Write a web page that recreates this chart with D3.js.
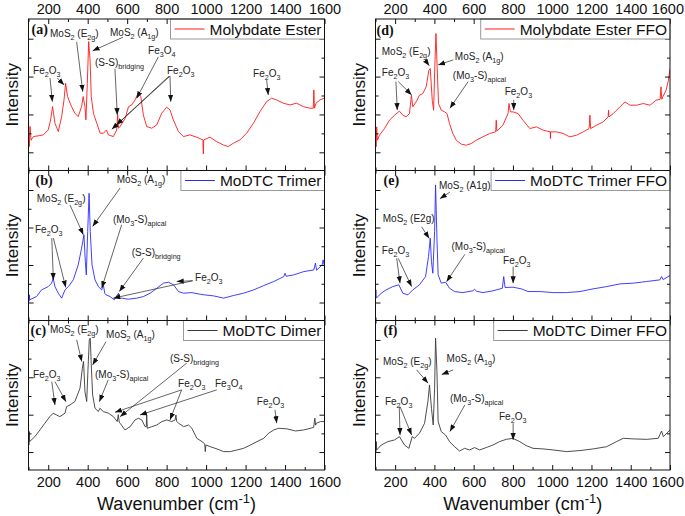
<!DOCTYPE html>
<html><head><meta charset="utf-8">
<script src="https://cdn.jsdelivr.net/npm/d3@7"></script>
<style>body{margin:0;background:#fff}svg{display:block}</style>
</head><body><svg id="c" width="685" height="516"></svg>
<script>
// ---------- data (wavenumber cm-1, intensity a.u.) ----------
const xMajor = [200,400,600,800,1000,1200,1400,1600];
const xMinor = [100,300,500,700,900,1100,1300,1500];
const xDomain = [100,1600];
const yDomain = [0,100];

const specA = [[100,33.4],[104,15.8],[108,29],[113,20],[125,22.4],[150,22.9],[175,23.5],[200,26.8],[212,33.4],[222,42.2],[228,36.7],[234,31.2],[251,25.7],[268,35.6],[280,46.6],[288,57.6],[298,48.8],[318,42.2],[335,37.8],[352,35.6],[369,42.2],[377,48.8],[386,42.2],[391,33.4],[398,57.6],[405,85.1],[412,73],[418,48.8],[429,37.8],[446,31.2],[463,24.6],[480,24.6],[495,26.8],[505,23.5],[530,22.4],[547,26.8],[552,36.7],[556,27.9],[564,29],[590,34.5],[607,42.2],[623,43.3],[640,46.6],[657,51.5],[669,48.8],[682,36.7],[699,29],[725,27.9],[750,30.1],[775,37.8],[800,41.8],[817,40],[834,33.4],[860,25.7],[885,22.4],[918,23.5],[952,22],[984,20.2],[986,11],[988,20.2],[1020,22],[1053,19.1],[1087,16.9],[1112,15.8],[1138,18],[1172,20.2],[1205,24.6],[1240,31.2],[1273,38.9],[1307,45.5],[1332,47.7],[1357,46.6],[1391,44.4],[1425,43.3],[1459,44.4],[1492,42.2],[1526,41.1],[1543,41.1],[1546,53.2],[1549,41.1],[1557,44.4],[1577,46.6],[1600,47.7]];

const specB = [[100,19.3],[102,12.7],[104,17.1],[106,13.8],[141,16],[166,20.4],[200,22.6],[217,24.9],[225,28.2],[234,22.6],[251,18.2],[268,14.9],[285,20.4],[302,22.6],[327,27.1],[352,37.1],[369,48.2],[381,57.1],[388,39.3],[393,30.4],[400,59.3],[407,84.8],[413,59.3],[422,37.1],[437,27.1],[454,22.6],[471,20.4],[479,23.8],[487,18],[493,17.1],[513,16],[535,13.8],[556,18.2],[560,15],[572,14.9],[606,14.2],[649,14.9],[683,16],[716,18.2],[750,21.5],[784,24.9],[809,25.5],[835,23.8],[860,19.3],[886,18.2],[928,18.6],[970,17.5],[991,17.1],[1038,16.4],[1089,14.9],[1140,16.7],[1190,18.2],[1241,20.4],[1292,23.3],[1343,26],[1394,29.3],[1400,31.5],[1406,29.5],[1444,30.4],[1495,32.6],[1546,33.7],[1554,38.2],[1560,33.5],[1588,37.1],[1593,40.4],[1600,36]];

const specC = [[100,27.9],[102,16.7],[104,25.7],[106,19],[132,22.3],[158,26.8],[183,31.3],[208,35.7],[225,38],[242,36.8],[259,35.7],[285,38],[293,42.4],[310,43.5],[335,45.8],[361,54.7],[373,68.1],[379,72.6],[386,52.5],[395,45.8],[401,65.9],[408,87.1],[413,88.2],[418,70.3],[425,50.2],[437,41.3],[454,39.1],[462,41.3],[479,39.1],[505,38],[530,35.7],[550,32.4],[555,37],[560,32],[564,31.3],[589,26.8],[615,29],[640,33.5],[657,34.6],[674,33.5],[691,29],[697,29],[699,36.8],[702,27.9],[725,29],[750,30.1],[776,32.4],[801,33.5],[826,32.4],[843,33.5],[847,36.8],[851,32.5],[860,31.3],[886,29],[911,30.1],[928,27.9],[953,21.2],[979,19],[993,17.5],[996,12.3],[999,16.7],[1021,15.6],[1055,14.1],[1089,12.3],[1123,12.3],[1157,13.4],[1190,14.5],[1224,16.7],[1258,19],[1292,21.2],[1317,24.6],[1343,26.8],[1368,27.9],[1410,27.5],[1453,26.1],[1495,26.8],[1529,27.9],[1545,28.5],[1551,34.6],[1555,30],[1559,31.3],[1580,32.4],[1600,32.4]];

const specD = [[100,24.4],[103,15.6],[106,28.8],[110,20],[120,23.3],[146,27.7],[171,33.2],[197,36.5],[222,39.2],[239,36.5],[256,35.4],[273,37.6],[283,49.7],[290,42],[307,45.3],[324,49.7],[341,50.8],[358,55.2],[372,66.2],[379,67.3],[389,46.4],[396,39.8],[402,68.4],[408,90.4],[414,68.4],[421,44.2],[435,39.8],[452,38.7],[464,37.6],[477,31],[494,24.4],[511,20],[537,17.4],[562,16.7],[588,17.8],[613,20],[647,22.2],[681,24.4],[712,25.5],[715,33.2],[718,26],[749,29.9],[775,37.6],[780,44.2],[787,38.7],[800,38.7],[826,37.6],[851,33.2],[886,27.7],[920,28.8],[954,26.6],[990,25.5],[991,21.1],[992,25.5],[1022,25.5],[1056,24.4],[1090,22.2],[1124,23.3],[1158,25.5],[1188,27.7],[1192,36.5],[1196,27.7],[1226,29.9],[1260,32.1],[1285,35.4],[1287,39.8],[1289,35.4],[1311,37.6],[1345,42],[1371,45.3],[1396,43.1],[1430,43.1],[1464,44.2],[1498,43.1],[1529,46.4],[1550,47],[1554,55.2],[1558,47],[1563,48.6],[1580,53],[1592,59.6],[1600,67.3]];

const specE = [[100,17.1],[102,20.4],[104,14.9],[129,18.2],[154,20.4],[188,22.6],[219,23.8],[239,18.2],[265,17.1],[290,20.4],[324,23.8],[355,29.3],[370,42.6],[379,54.8],[385,39.3],[392,31.5],[401,59.3],[406,90.4],[413,54.8],[419,30.4],[435,24.9],[457,25.5],[477,21.5],[503,19.3],[545,18.6],[596,19.8],[605,20.8],[615,19.5],[647,18.6],[698,19.8],[746,21.5],[753,29.3],[760,22],[800,22.2],[843,21.1],[877,19.3],[937,19.3],[1005,18.6],[1073,18.6],[1141,19.3],[1209,21.1],[1277,22.6],[1345,24.4],[1413,24.9],[1481,26],[1549,27.1],[1557,29.3],[1565,27.3],[1600,30]];

const specF = [[100,16.7],[102,12.3],[104,19],[106,13.4],[129,16.7],[163,19],[197,20.1],[222,22.3],[248,16.7],[270,14.5],[287,22.3],[299,21.2],[324,24.6],[350,31.3],[367,45.8],[375,56.9],[385,41.3],[394,30.1],[401,54.7],[406,88.2],[413,65.9],[419,32.4],[435,25.7],[457,23.4],[477,19],[503,15.6],[528,12.7],[554,14.5],[579,13.4],[605,15],[630,13.4],[664,15],[698,16.7],[732,19],[766,20.5],[800,21.2],[834,19],[868,16.3],[902,14.5],[954,14.1],[1005,13.4],[1073,12.3],[1141,13],[1209,14.1],[1277,15.6],[1328,19],[1362,21.2],[1413,20.8],[1481,20.5],[1540,21.2],[1557,26.1],[1566,22.3],[1600,26.8]];

const legendNames = ['Molybdate Ester','MoDTC Trimer','MoDTC Dimer','Molybdate Ester FFO','MoDTC Trimer FFO','MoDTC Dimer FFO'];
const panelLetters = ['(a)','(b)','(c)','(d)','(e)','(f)'];

// annotations: text left/centre at [wavenumber, intensity]; arrows [from, to]
const annA = [
 {t:'MoS_{2} (E_{2g})', at:[209,90.6], arr:[[[344,84.9],[375,52]]]},
 {t:'MoS_{2} (A_{1g})', at:[513,91.3], arr:[[[579,88],[425,79]]]},
 {t:'Fe_{2}O_{3}', at:[123,66.2], arr:[[[209,61],[221,45.4]],[[246,61],[281,56.4]]]},
 {t:'(S-S)_{bridging}', at:[437,71.5], arr:[[[538,67.2],[550,36.6]]]},
 {t:'Fe_{3}O_{4}', at:[706,79.4], arr:[[[758,75],[648,47.6]]]},
 {t:'Fe_{2}O_{3}', at:[802,66.2], arr:[[[817,62.3],[821,45.4]],[[817,62.3],[522,27.2]],[[812,62.3],[545,30]]]},
 {t:'Fe_{2}O_{3}', at:[1238,64.3], arr:[[[1307,59.7],[1315,49.8]]]}
];
const annB = [
 {t:'MoS_{2} (E_{2g})', at:[142,81.6], arr:[[[310,77.1],[378,57.1]]]},
 {t:'MoS_{2} (A_{1g})', at:[547,93.8], arr:[[[564,88.3],[425,62.7]]]},
 {t:'Fe_{2}O_{3}', at:[133,60.5], arr:[[[218,54.9],[226,27]],[[226,54.9],[289,22]]]},
 {t:'(Mo_{3}-S)_{apical}', at:[528,67.1], arr:[[[572,63.8],[471,21.6]]]},
 {t:'(S-S)_{bridging}', at:[623,45.1], arr:[[[682,41.6],[560,19.3]]]},
 {t:'Fe_{2}O_{3}', at:[944,28.5], arr:[[[932,26.5],[851,26]],[[932,26.5],[530,14.9]]]}
];
const annC = [
 {t:'MoS_{2} (E_{2g})', at:[209,93.8], arr:[[[344,87.1],[370,72.5]]]},
 {t:'MoS_{2} (A_{1g})', at:[493,90.4], arr:[[[493,85.9],[425,70.3]]]},
 {t:'Fe_{2}O_{3}', at:[123,63.6], arr:[[[218,59.1],[234,43.5]],[[234,59.1],[290,45.7]]]},
 {t:'(Mo_{3}-S)_{apical}', at:[437,63.6], arr:[[[504,60.3],[459,45.7]]]},
 {t:'(S-S)_{bridging}', at:[817,74.8], arr:[[[902,71.5],[564,35.7]]]},
 {t:'Fe_{2}O_{3}', at:[858,58.1], arr:[[[876,53.6],[538,38.6]],[[876,53.6],[817,33.5]]]},
 {t:'Fe_{3}O_{4}', at:[1045,58.1], arr:[[[1054,53.6],[665,36.8]]]},
 {t:'Fe_{2}O_{3}', at:[1257,45.7], arr:[[[1349,40.2],[1358,31.3]]]}
];
const annD = [
 {t:'MoS_{2} (E_{2g})', at:[132,78.3], arr:[[[352,73],[374,69.1]]]},
 {t:'MoS_{2} (A_{1g})', at:[504,75], arr:[[[496,73],[419,69.7]]]},
 {t:'Fe_{2}O_{3}', at:[132,64.4], arr:[[[204,58.7],[211,39.9]],[[216,58.7],[284,49.9]]]},
 {t:'(Mo_{3}-S)_{apical}', at:[494,62.5], arr:[[[572,58.7],[479,41.1]]]},
 {t:'Fe_{2}O_{3}', at:[758,51.9], arr:[[[804,46.6],[804,39.9]]]}
];
const annE = [
 {t:'MoS_{2} (A1g)', at:[423,90], arr:[[[479,85.6],[428,81.2]]]},
 {t:'MoS_{2} (E2g)', at:[137,68], arr:[[[335,62.4],[374,54.7]]]},
 {t:'Fe_{2}O_{3}', at:[132,46.9], arr:[[[208,41.4],[225,24.8]],[[216,41.4],[284,22.6]]]},
 {t:'(Mo_{3}-S)_{apical}', at:[487,49.1], arr:[[[555,44.1],[462,25.9]]]},
 {t:'Fe_{2}O_{3}', at:[750,40.3], arr:[[[801,35.8],[801,24.8]]]}
];
const annF = [
 {t:'MoS_{2} (E_{2g})', at:[138,72.5], arr:[[[309,67],[368,58.1]]]},
 {t:'MoS_{2} (A_{1g})', at:[462,74.8], arr:[[[496,67],[437,63.8]]]},
 {t:'Fe_{2}O_{3}', at:[148,45.7], arr:[[[221,42.4],[225,23.4]],[[225,42.4],[284,23.4]]]},
 {t:'(Mo_{3}-S)_{apical}', at:[479,48], arr:[[[555,43.5],[479,25.7]]]},
 {t:'Fe_{2}O_{3}', at:[729,35.7], arr:[[[801,31.3],[801,20.1]]]}
];

const yMajorL = [12,37,62,87];
const yMinorL = [24.5,49.5,74.5,99.5];

// ---------- layout ----------
const W = 685, H = 516;
const colX = [[28.5,324.5],[375.5,670]];
const rowY = [[19,170.5],[170.5,320.5],[320.5,470]];
const FONT = "'Liberation Sans', Arial, sans-serif";
const colors = {red:'#ff1a1a', blue:'#2a2aff', gray:'#3a3a3a'};
const ANN_FS = 10;

const panels = [
 {data:specA, col:0,row:0, color:colors.red, ann:annA, lbl:[3,15]},
 {data:specB, col:0,row:1, color:colors.blue, ann:annB, lbl:[7,14]},
 {data:specC, col:0,row:2, color:colors.gray, ann:annC, lbl:[2,14]},
 {data:specD, col:1,row:0, color:colors.red, ann:annD, lbl:[1,16]},
 {data:specE, col:1,row:1, color:colors.blue, ann:annE, lbl:[8,14]},
 {data:specF, col:1,row:2, color:colors.gray, ann:annF, lbl:[8,14]}
];

const svg = d3.select('#c');
svg.append('rect').attr('width',W).attr('height',H).attr('fill','#fff');
const defs = svg.append('defs');
defs.append('marker').attr('id','ah').attr('viewBox','0 0 8 6').attr('refX',8).attr('refY',3)
  .attr('markerWidth',7).attr('markerHeight',5.5).attr('markerUnits','userSpaceOnUse').attr('orient','auto')
  .append('path').attr('d','M0,0L8,3L0,6Z').attr('fill','#111');

function rich(textSel, str, fs){
  const parts = str.split(/(_\{[^}]*\}|\^\{[^}]*\})/);
  let off = 0;
  parts.forEach(p=>{
    if(!p) return;
    let target = 0, txt = p, size = fs;
    if(p.startsWith('_{')){ target = fs*0.3; txt = p.slice(2,-1); size = fs*0.72; }
    else if(p.startsWith('^{')){ target = -fs*0.4; txt = p.slice(2,-1); size = fs*0.72; }
    textSel.append('tspan').attr('dy', target-off).attr('font-size', size).text(txt);
    off = target;
  });
}

panels.forEach((p,i)=>{
  const [x0,x1] = colX[p.col], [y0,y1] = rowY[p.row];
  const x = d3.scaleLinear().domain(xDomain).range([x0,x1]);
  const y = d3.scaleLinear().domain(yDomain).range([y1,y0]);
  const g = svg.append('g');
  const cid = 'clip'+i;
  defs.append('clipPath').attr('id',cid).append('rect').attr('x',x0).attr('y',y0).attr('width',x1-x0).attr('height',y1-y0);

  // spectrum
  g.append('path').datum(p.data).attr('clip-path',`url(#${cid})`)
   .attr('fill','none').attr('stroke',p.color).attr('stroke-width',0.9).attr('stroke-linejoin','round')
   .attr('d', d3.line().x(d=>x(d[0])).y(d=>y(d[1])));

  // axes (ticks inward)
  const mk = (axis, tr, vals, len, fmt, pad) => {
    const a = g.append('g').attr('transform',tr)
      .call(axis.tickValues(vals).tickSizeInner(-len).tickSizeOuter(0).tickPadding(pad||3).tickFormat(fmt||''));
    a.select('.domain').remove();
    a.selectAll('text').attr('font-family',FONT).attr('font-size',14.5).attr('fill','#111');
    a.selectAll('line').attr('stroke','#111');
    // keep labels inside the page
    a.selectAll('text').each(function(){
      const b = this.getBoundingClientRect();
      if (b.right > W - 1) d3.select(this).attr('x', (W - 1) - b.right);
    });
    return a;
  };
  mk(d3.axisBottom(x), `translate(0,${y1})`, xMajor, 5, p.row===2? d3.format('d'):'', 7);
  mk(d3.axisBottom(x), `translate(0,${y1})`, xMinor, 3);
  mk(d3.axisTop(x), `translate(0,${y0})`, xMajor, 5, p.row===0? d3.format('d'):'', 5);
  mk(d3.axisTop(x), `translate(0,${y0})`, xMinor, 3);
  mk(d3.axisLeft(y), `translate(${x0},0)`, yMajorL, 5);
  mk(d3.axisLeft(y), `translate(${x0},0)`, yMinorL.filter(v=>y(v)>y0+2), 3);
  mk(d3.axisRight(y), `translate(${x1},0)`, yMajorL, 5);
  mk(d3.axisRight(y), `translate(${x1},0)`, yMinorL.filter(v=>y(v)>y0+2), 3);

  // annotations
  p.ann.forEach(a=>{
    a.arr.forEach(([f,t])=>{
      g.append('line').attr('x1',x(f[0])).attr('y1',y(f[1])).attr('x2',x(t[0])).attr('y2',y(t[1]))
       .attr('stroke','#222').attr('stroke-width',0.7).attr('marker-end','url(#ah)');
    });
    const tx = g.append('text').attr('x',x(a.at[0])).attr('y',y(a.at[1])+3.5)
      .attr('font-family',FONT).attr('font-size',ANN_FS).attr('fill','#222');
    rich(tx, a.t, ANN_FS);
  });

  // legend
  const lg = g.append('g');
  const lt = lg.append('text').attr('font-family',FONT).attr('font-size',15.5).attr('fill','#111').text(legendNames[i]);
  const tw = lt.node().getComputedTextLength();
  const tx0 = x1 - 3 - tw;
  const bh = 20;
  lg.insert('rect','text').attr('x',tx0-39).attr('y',y0).attr('width',x1-(tx0-39)).attr('height',bh)
    .attr('fill','#fff').attr('stroke','#999').attr('stroke-width',1);
  lg.append('line').attr('x1',tx0-35).attr('x2',tx0-5).attr('y1',y0+bh/2).attr('y2',y0+bh/2)
    .attr('stroke',p.color).attr('stroke-width',1);
  lt.attr('x',tx0).attr('y',y0+bh/2+5.5);

  // frame
  g.append('rect').attr('x',x0).attr('y',y0).attr('width',x1-x0).attr('height',y1-y0)
   .attr('fill','none').attr('stroke','#111').attr('stroke-width',1);

  // panel letter
  g.append('text').attr('x',x0+p.lbl[0]).attr('y',y0+p.lbl[1]).attr('font-family',"'Liberation Serif', 'Times New Roman', serif")
   .attr('font-weight','bold').attr('font-size',14).attr('fill','#111').text(panelLetters[i]);

  // y title
  g.append('text').attr('transform',`translate(${x0-16.5},${(y0+y1)/2}) rotate(-90)`)
   .attr('text-anchor','middle').attr('dominant-baseline','central').attr('font-family',FONT).attr('font-size',17).attr('fill','#111').text('Intensity');
});

// x titles
colX.forEach(([x0,x1])=>{
  const t = svg.append('text').attr('x',(x0+x1)/2).attr('y',510).attr('text-anchor','middle')
    .attr('font-family',FONT).attr('font-size',18).attr('fill','#111');
  rich(t,'Wavenumber (cm^{-1})',18);
});
</script>
</body></html>
